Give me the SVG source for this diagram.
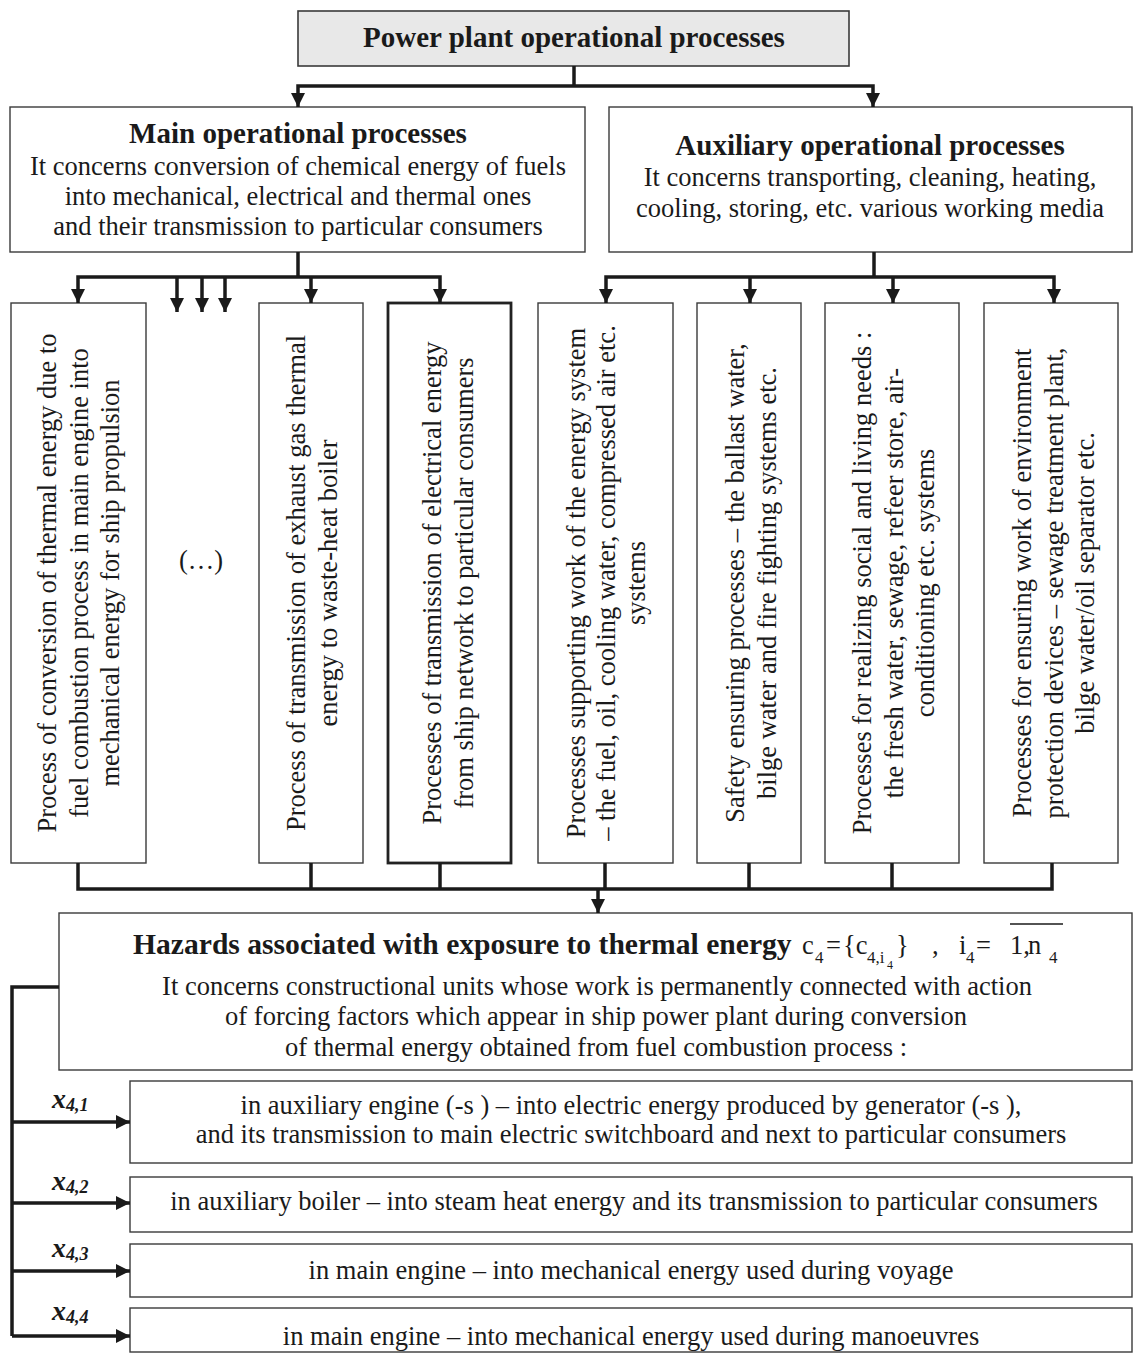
<svg xmlns="http://www.w3.org/2000/svg" width="1134" height="1353" viewBox="0 0 1134 1353">
<style>
.bg{fill:#fff}
.box{fill:#fff;stroke:#3a3a3a;stroke-width:1.4}
.top{fill:#e8e8e8;stroke:#3a3a3a;stroke-width:1.6}
.thick{fill:#fff;stroke:#222;stroke-width:2.8}
.conn{fill:none;stroke:#1a1a1a;stroke-width:3.5;stroke-linejoin:miter}
.arr{fill:none;stroke:#1a1a1a;stroke-width:3.5;marker-end:url(#ah)}
.t{font-family:"Liberation Serif","Times New Roman",serif;font-size:26.5px;fill:#1a1a1a}
.c{text-anchor:middle}
.b{font-weight:bold;font-size:29px}
.s1{font-size:17px}
.s2{font-size:12px}
.lbl{font-family:"Liberation Serif","Times New Roman",serif;font-weight:bold;font-style:italic;fill:#1a1a1a;font-size:28px}
.sub{font-size:18px}
</style>
<defs>
<marker id="ah" markerUnits="userSpaceOnUse" markerWidth="15" markerHeight="14" refX="14" refY="7" orient="auto">
<path d="M0,0 L14,7 L0,14 Z" fill="#1a1a1a"/>
</marker>
</defs>
<rect class="bg" x="0" y="0" width="1134" height="1353"/>

<g id="n-root">
<rect class="top" x="298" y="11" width="551" height="55"/>
<text class="t c b" x="574" y="47">Power plant operational processes</text>
</g>

<g id="n-main">
<rect class="box" x="10" y="107" width="575" height="145"/>
<text class="t c b" x="298" y="143">Main operational processes</text>
<text class="t c" x="298" y="175">It concerns conversion of chemical energy of fuels</text>
<text class="t c" x="298" y="205">into mechanical, electrical and thermal ones</text>
<text class="t c" x="298" y="235">and their transmission to particular consumers</text>
</g>

<g id="n-aux">
<rect class="box" x="609" y="107" width="523" height="145"/>
<text class="t c b" x="870" y="155">Auxiliary operational processes</text>
<text class="t c" x="870" y="186">It concerns transporting, cleaning, heating,</text>
<text class="t c" x="870" y="217">cooling, storing, etc. various working media</text>
</g>

<g id="n-m1">
<rect class="box" x="11" y="303" width="135" height="560"/>
<g transform="translate(0,583) rotate(-90)">
<text class="t c" x="0" y="56">Process of conversion of thermal energy due to</text>
<text class="t c" x="0" y="88">fuel combustion process in main engine into</text>
<text class="t c" x="0" y="119">mechanical energy for ship propulsion</text>
</g>
</g>

<g id="n-etc">
<text class="t c" x="201" y="569">(…)</text>
</g>

<g id="n-m2">
<rect class="box" x="259" y="303" width="104" height="560"/>
<g transform="translate(0,583) rotate(-90)">
<text class="t c" x="0" y="305">Process of transmission of exhaust gas  thermal</text>
<text class="t c" x="0" y="337">energy  to waste-heat boiler</text>
</g>
</g>

<g id="n-m3">
<rect class="thick" x="388" y="303" width="123" height="560"/>
<g transform="translate(0,583) rotate(-90)">
<text class="t c" x="0" y="441">Processes  of transmission of electrical energy</text>
<text class="t c" x="0" y="473">from ship network to particular  consumers</text>
</g>
</g>

<g id="n-a1">
<rect class="box" x="538" y="303" width="135" height="560"/>
<g transform="translate(0,583) rotate(-90)">
<text class="t c" x="0" y="585">Processes supporting  work of the energy system</text>
<text class="t c" x="0" y="615">– the  fuel, oil, cooling water, compressed air  etc.</text>
<text class="t c" x="0" y="645">systems</text>
</g>
</g>

<g id="n-a2">
<rect class="box" x="697" y="303" width="104" height="560"/>
<g transform="translate(0,583) rotate(-90)">
<text class="t c" x="0" y="744">Safety ensuring  processes  – the ballast water,</text>
<text class="t c" x="0" y="776">bilge water and fire fighting systems etc.</text>
</g>
</g>

<g id="n-a3">
<rect class="box" x="825" y="303" width="134" height="560"/>
<g transform="translate(0,583) rotate(-90)">
<text class="t c" x="0" y="871">Processes for realizing social and living needs :</text>
<text class="t c" x="0" y="903">the fresh water, sewage, refeer store, air-</text>
<text class="t c" x="0" y="934">conditioning etc. systems</text>
</g>
</g>

<g id="n-a4">
<rect class="box" x="984" y="303" width="134" height="560"/>
<g transform="translate(0,583) rotate(-90)">
<text class="t c" x="0" y="1031">Processes for ensuring  work of environment</text>
<text class="t c" x="0" y="1063">protection devices – sewage treatment plant,</text>
<text class="t c" x="0" y="1094">bilge water/oil  separator  etc.</text>
</g>
</g>

<g id="n-hazard">
<rect class="box" x="59" y="913" width="1073" height="157"/>
<text class="t b" x="133" y="954" style="font-size:29.6px">Hazards associated with exposure to thermal energy</text>
<text class="t"><tspan x="802" y="954">c</tspan><tspan class="s1" x="815" y="963">4</tspan><tspan x="826" y="954">=</tspan><tspan x="843" y="954">{c</tspan><tspan class="s1" x="867" y="963">4,i</tspan><tspan class="s2" x="887" y="969">4</tspan><tspan x="896" y="954">}</tspan><tspan x="932" y="954">,</tspan><tspan x="959" y="954">i</tspan><tspan class="s1" x="966" y="963">4</tspan><tspan x="976" y="954">=</tspan><tspan x="1010" y="954">1,</tspan><tspan x="1028" y="954">n</tspan><tspan class="s1" x="1049" y="963">4</tspan></text>
<line x1="1010" y1="924" x2="1063" y2="924" stroke="#1a1a1a" stroke-width="1.5"/>
<text class="t c" x="597" y="995">It concerns constructional units whose work is permanently connected with  action</text>
<text class="t c" x="596" y="1025">of forcing factors which appear in ship power plant during conversion</text>
<text class="t c" x="596" y="1056">of  thermal energy  obtained from fuel combustion process :</text>
</g>

<g id="n-x41">
<rect class="box" x="130" y="1081" width="1002" height="82"/>
<text class="t c" x="631" y="1114">in auxiliary engine (-s ) –  into electric energy produced by generator (-s ),</text>
<text class="t c" x="631" y="1143">and its transmission to main electric switchboard and next to particular consumers</text>
</g>
<g id="n-x42">
<rect class="box" x="130" y="1177" width="1002" height="55"/>
<text class="t c" x="634" y="1210">in auxiliary boiler – into steam heat energy and its transmission to particular consumers</text>
</g>
<g id="n-x43">
<rect class="box" x="130" y="1244" width="1002" height="53"/>
<text class="t c" x="631" y="1279">in main engine – into mechanical energy  used  during voyage</text>
</g>
<g id="n-x44">
<rect class="box" x="130" y="1308" width="1002" height="44"/>
<text class="t c" x="631" y="1345">in main engine – into mechanical energy  used  during manoeuvres</text>
</g>

<g id="connectors">
<path class="conn" d="M574,66 V86"/>
<path class="arr" d="M574,86 H298 V107"/>
<path class="arr" d="M574,86 H873 V107"/>
<path class="conn" d="M298,252 V277"/>
<path class="arr" d="M298,277 H78 V303"/>
<path class="arr" d="M298,277 H440 V303"/>
<path class="arr" d="M311,277 V303"/>
<path class="arr" d="M177,277 V312"/>
<path class="arr" d="M202,277 V312"/>
<path class="arr" d="M225,277 V312"/>
<path class="conn" d="M874,252 V277"/>
<path class="arr" d="M874,277 H606 V303"/>
<path class="arr" d="M874,277 H1054 V303"/>
<path class="arr" d="M750,277 V303"/>
<path class="arr" d="M893,277 V303"/>
<path class="conn" d="M78,863 V889 H1052 V863"/>
<path class="conn" d="M311,863 V889 M440,863 V889 M605,863 V889 M749,863 V889 M892,863 V889"/>
<path class="arr" d="M598,889 V913"/>
<path class="conn" d="M59,987 H12 V1336"/>
<path class="arr" d="M12,1122 H130"/>
<path class="arr" d="M12,1203 H130"/>
<path class="arr" d="M12,1271 H130"/>
<path class="arr" d="M12,1336 H130"/>
<text class="lbl" x="52" y="1108">x<tspan class="sub" dy="3">4,1</tspan></text>
<text class="lbl" x="52" y="1190">x<tspan class="sub" dy="3">4,2</tspan></text>
<text class="lbl" x="52" y="1257">x<tspan class="sub" dy="3">4,3</tspan></text>
<text class="lbl" x="52" y="1320">x<tspan class="sub" dy="3">4,4</tspan></text>
</g>
</svg>
